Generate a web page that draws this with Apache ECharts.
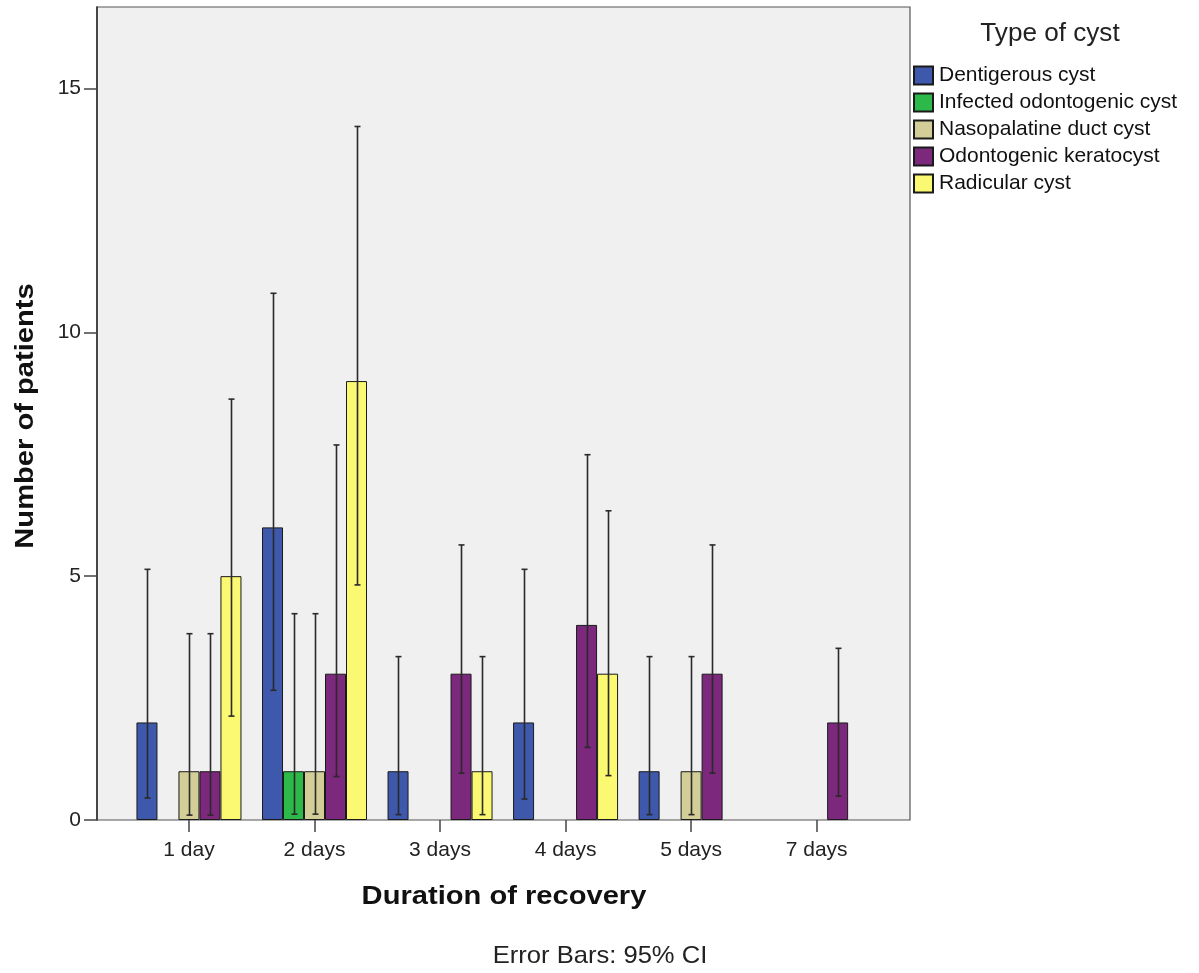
<!DOCTYPE html>
<html>
<head>
<meta charset="utf-8">
<script src="https://cdn.jsdelivr.net/npm/echarts@6/dist/echarts.min.js"></script>
<style>html,body{margin:0;padding:0;background:#fff}#c{width:1199px;height:973px}</style>
</head>
<body>
<div id="c"></div>
<script>
const categories = ['1 day', '2 days', '3 days', '4 days', '5 days', '7 days'];
const seriesNames = ['Dentigerous cyst', 'Infected odontogenic cyst', 'Nasopalatine duct cyst', 'Odontogenic keratocyst', 'Radicular cyst'];
const yTicks = [0, 5, 10, 15];

const dentigerous      = [2, 6, 1, 2, 1, null];
const infected         = [null, 1, null, null, null, null];
const nasopalatine     = [1, 1, null, null, 1, null];
const keratocyst       = [1, 3, 3, 4, 3, 2];
const radicular        = [5, 9, 1, 3, null, null];

const dentigerousLow   = [0.45, 2.66, 0.11, 0.43, 0.11, null];
const dentigerousHigh  = [5.14, 10.80, 3.35, 5.14, 3.35, null];
const infectedLow      = [null, 0.12, null, null, null, null];
const infectedHigh     = [null, 4.23, null, null, null, null];
const nasopalatineLow  = [0.10, 0.12, null, null, 0.11, null];
const nasopalatineHigh = [3.82, 4.23, null, null, 3.35, null];
const keratocystLow    = [0.10, 0.89, 0.96, 1.49, 0.96, 0.49];
const keratocystHigh   = [3.82, 7.69, 5.64, 7.49, 5.64, 3.52];
const radicularLow     = [2.13, 4.82, 0.11, 0.91, null, null];
const radicularHigh    = [8.63, 14.22, 3.35, 6.34, null, null];

const counts = [dentigerous, infected, nasopalatine, keratocyst, radicular];
const lows = [dentigerousLow, infectedLow, nasopalatineLow, keratocystLow, radicularLow];
const highs = [dentigerousHigh, infectedHigh, nasopalatineHigh, keratocystHigh, radicularHigh];

const colors = ['#3E58AC', '#2DB84A', '#D3CE97', '#7B287D', '#FBF872'];
const FONT = '"Liberation Sans", Arial, sans-serif';
const BAR_W = 21;
const Y_MAX = 16.67;

const chart = echarts.init(document.getElementById('c'), null, {renderer: 'canvas'});

const series = [];
counts.forEach((arr, s) => {
  series.push({
    name: seriesNames[s],
    type: 'bar',
    xAxisIndex: 1,
    yAxisIndex: 1,
    data: arr,
    barWidth: BAR_W,
    barGap: '0%',
    itemStyle: {color: colors[s], borderColor: '#1a1a1a', borderWidth: 1},
    emphasis: {disabled: true},
    z: 2
  });
});
counts.forEach((arr, s) => {
  const data = [];
  arr.forEach((v, i) => {
    if (v != null && lows[s][i] != null) data.push([i, lows[s][i], highs[s][i]]);
  });
  const offset = (s - 2) * BAR_W;
  series.push({
    name: seriesNames[s] + ' CI',
    type: 'custom',
    xAxisIndex: 1,
    yAxisIndex: 1,
    data: data,
    z: 5,
    silent: true,
    encode: {x: 0, y: [1, 2]},
    renderItem: function (params, api) {
      const idx = api.value(0);
      const pLo = api.coord([idx, api.value(1)]);
      const pHi = api.coord([idx, api.value(2)]);
      const x = Math.round(pLo[0] + offset) + 0.5;
      const st = {stroke: '#2a2a2a', lineWidth: 1.6};
      return {
        type: 'group',
        children: [
          {type: 'line', shape: {x1: x, y1: pLo[1], x2: x, y2: pHi[1]}, style: st},
          {type: 'line', shape: {x1: x - 3, y1: pLo[1], x2: x + 3, y2: pLo[1]}, style: st},
          {type: 'line', shape: {x1: x - 3, y1: pHi[1], x2: x + 3, y2: pHi[1]}, style: st}
        ]
      };
    }
  });
});

const option = {
  animation: false,
  backgroundColor: '#ffffff',
  textStyle: {fontFamily: FONT},
  grid: [
    {left: 97, top: 7, width: 813, height: 813, show: true, backgroundColor: '#F0F0F0', borderColor: '#555', borderWidth: 1.2, containLabel: false},
    {left: 126.2, top: 7, width: 753.2, height: 813, containLabel: false}
  ],
  xAxis: [
    {gridIndex: 0, type: 'value', min: 0, max: 1, show: false},
    {gridIndex: 1, type: 'category', data: categories,
      axisLine: {show: false},
      axisTick: {show: true, alignWithLabel: true, length: 12, lineStyle: {color: '#444', width: 1.5}},
      axisLabel: {fontSize: 21, color: '#222', margin: 20, fontFamily: FONT},
      splitLine: {show: false}}
  ],
  yAxis: [
    {gridIndex: 0, type: 'value', min: 0, max: Y_MAX,
      axisLine: {show: true, lineStyle: {color: '#333', width: 1.6}},
      axisTick: {show: true, length: 13, lineStyle: {color: '#444', width: 1.5},
        customValues: yTicks},
      axisLabel: {fontSize: 21, color: '#222', margin: 16, fontFamily: FONT, customValues: yTicks},
      splitLine: {show: false}},
    {gridIndex: 1, type: 'value', min: 0, max: Y_MAX, show: false, splitLine: {show: false}}
  ],
  legend: {
    data: seriesNames,
    orient: 'vertical',
    left: 908,
    top: 60,
    itemWidth: 19,
    itemHeight: 18,
    itemGap: 6,
    icon: 'rect',
    selectedMode: false,
    textStyle: {fontSize: 21, color: '#111', fontFamily: FONT, padding: [0, 0, 0, 1]}
  },
  graphic: [
    {type: 'text', x: 1050, y: 34, scaleX: 1.045,
      style: {text: 'Type of cyst', fontSize: 25, fill: '#222', fontFamily: FONT, align: 'center', verticalAlign: 'middle'}},
    {type: 'text', x: 26, y: 416, rotation: Math.PI / 2, scaleX: 1.12,
      style: {text: 'Number of patients', fontSize: 26, fontWeight: 'bold', fill: '#111', fontFamily: FONT, align: 'center', verticalAlign: 'middle'}},
    {type: 'text', x: 504, y: 897, scaleX: 1.12,
      style: {text: 'Duration of recovery', fontSize: 26, fontWeight: 'bold', fill: '#111', fontFamily: FONT, align: 'center', verticalAlign: 'middle'}},
    {type: 'text', x: 600, y: 956, scaleX: 1.065,
      style: {text: 'Error Bars: 95% CI', fontSize: 24, fill: '#222', fontFamily: FONT, align: 'center', verticalAlign: 'middle'}}
  ],
  series: series
};
chart.setOption(option);
</script>
</body>
</html>
